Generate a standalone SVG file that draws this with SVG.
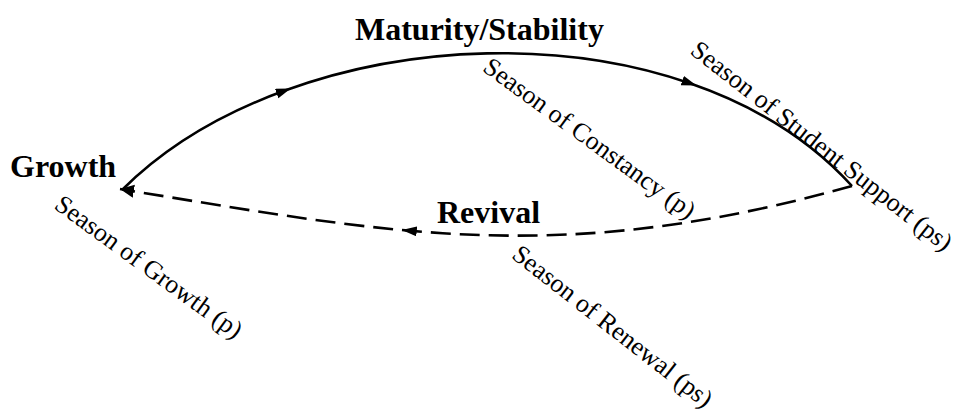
<svg xmlns="http://www.w3.org/2000/svg" width="957" height="413" viewBox="0 0 957 413">
  <style>
    .stage { font-family: "Liberation Serif", "Times New Roman", serif; font-weight: bold; font-size: 32px; fill: #000; }
    .season { font-family: "Liberation Serif", "Times New Roman", serif; font-size: 26px; fill: #000; }
    .flow { fill: none; stroke: #000; stroke-width: 2.6; }
    .dash { stroke-dasharray: 20 9; }
  </style>
  <defs>
    <marker id="arrowMid" markerUnits="userSpaceOnUse" markerWidth="16" markerHeight="12" refX="8" refY="5" orient="auto">
      <path d="M0,0 L15,5 L0,10 z" fill="#000"/>
    </marker>
    <marker id="arrowEnd" markerUnits="userSpaceOnUse" markerWidth="16" markerHeight="14" refX="14" refY="6.5" orient="auto">
      <path d="M0,0 L14,6.5 L0,13 z" fill="#000"/>
    </marker>
  </defs>

  <!-- connectors -->
  <g id="connectors">
    <path id="arc-upper" class="flow" marker-mid="url(#arrowMid)"
          d="M122,190 C164.75,147.25 221.06,113.88 284.15,90.8 C410.34,44.64 563.65,39.67 689.84,83.26 C752.94,105.06 809.25,139 852,186"/>
    <path id="arc-lower" class="flow dash" marker-mid="url(#arrowMid)" marker-end="url(#arrowEnd)"
          d="M852,186 C673.8,235.8 542.76,242.4 408.77,230.64 C319.44,222.8 228.8,206.8 120,189"/>
  </g>

  <!-- stages -->
  <g id="node-growth">
    <text class="stage" x="10" y="177">Growth</text>
  </g>
  <g id="node-maturity">
    <text class="stage" x="355" y="40">Maturity/Stability</text>
  </g>
  <g id="node-revival">
    <text class="stage" x="437" y="223">Revival</text>
  </g>

  <!-- seasons -->
  <g id="season-growth">
    <text class="season" transform="translate(53,207.7) rotate(36)">Season of Growth (p)</text>
  </g>
  <g id="season-constancy">
    <text class="season" transform="translate(481.5,70.2) rotate(36)">Season of Constancy (p)</text>
  </g>
  <g id="season-support">
    <text class="season" font-size="24.5" transform="translate(689,53) rotate(38)">Season of Student Support (ps)</text>
  </g>
  <g id="season-renewal">
    <text class="season" font-size="25" transform="translate(510.4,257.2) rotate(38)">Season of Renewal (ps)</text>
  </g>
</svg>
